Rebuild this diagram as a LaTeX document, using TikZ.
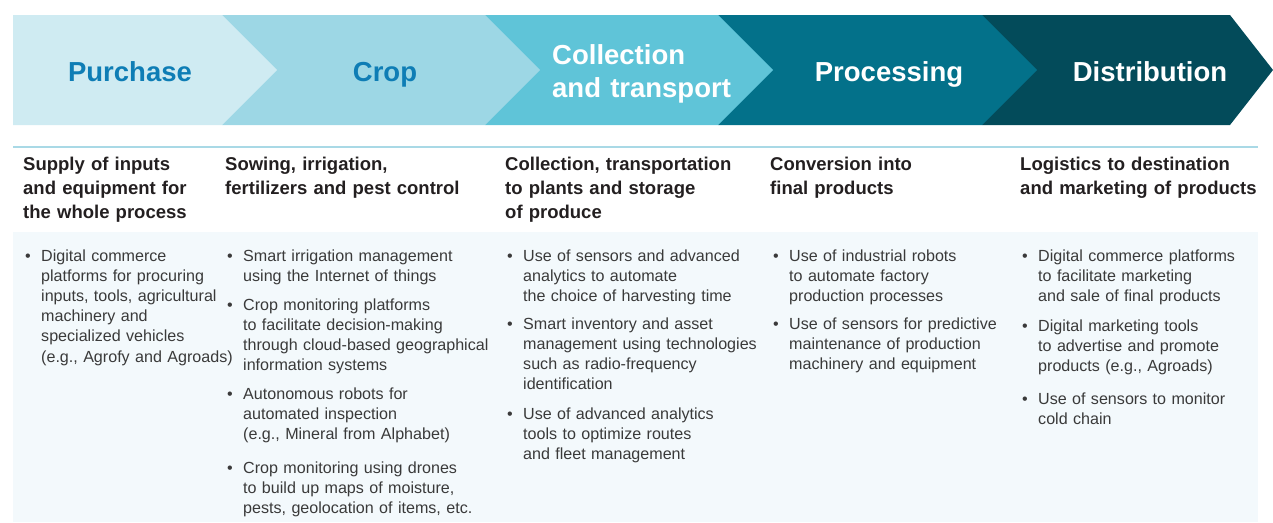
\documentclass[tikz,border=0pt]{standalone}
\usepackage{fontspec}
\setmainfont{Liberation Sans}
\usepackage{tikz}

\definecolor{stepA}{HTML}{CFEBF2}
\definecolor{stepB}{HTML}{9DD7E5}
\definecolor{stepC}{HTML}{5FC4D8}
\definecolor{stepD}{HTML}{03718A}
\definecolor{stepE}{HTML}{034B5A}
\definecolor{labblue}{HTML}{0E7DB5}
\definecolor{ruleblue}{HTML}{A9D9E6}
\definecolor{bodybg}{HTML}{F3F9FC}
\definecolor{headtxt}{HTML}{231F20}
\definecolor{bodytxt}{HTML}{3A3A3A}

\tikzset{
  stagelab/.style={font=\fontsize{27.5}{33}\selectfont\bfseries, inner sep=0, anchor=base},
  colhead/.style={font=\fontsize{18.5}{24}\selectfont\bfseries, text=headtxt,
    inner sep=0, anchor=base west, text width=260pt, align=left},
  bullitem/.style={font=\fontsize{16.1}{20.2}\selectfont, text=bodytxt,
    inner sep=0, anchor=base west, text width=260pt, align=left},
}
\newcommand{\bul}{\llap{\makebox[16pt][l]{\textbullet}}}

\begin{document}
\begin{tikzpicture}[x=1pt, y=-1pt]
  \useasboundingbox (0,0) rectangle (1273,522);

  % value chain arrows, last one first
  \foreach \xl/\xr/\tip/\col in {982/1230/1273/stepE, 718/982/1037/stepD,
      485/718/773/stepC, 222/485/540/stepB, 13/222/277/stepA}
    \fill[\col] (\xl,15) -- (\xr,15) -- (\tip,70) -- (\xr,125) -- (\xl,125) -- cycle;

  \node[stagelab, text=labblue] (purchase) at (130,81) {Purchase};
  \node[stagelab, text=labblue] (crop) at (385,81) {Crop};
  \node[stagelab, text=white, anchor=base west, text width=220pt, align=left]
    (collect) at (552,64) {Collection\\and transport};
  \node[stagelab, text=white] (processing) at (889,81) {Processing};
  \node[stagelab, text=white] (distribution) at (1150,81) {Distribution};

  \draw[ruleblue, line width=1.5pt] (13,147) -- (1258,147);
  \fill[bodybg] (13,232) rectangle (1258,522);

  % column heads
  \node[colhead] (headpurchase) at (23,170) {Supply of inputs\\and equipment for\\the whole process};
  \node[colhead] (headcrop) at (225,170) {Sowing, irrigation,\\fertilizers and pest control};
  \node[colhead] (headcollect) at (505,170) {Collection, transportation\\to plants and storage\\of produce};
  \node[colhead] (headprocess) at (770,170) {Conversion into\\final products};
  \node[colhead] (headdistrib) at (1020,170) {Logistics to destination\\and marketing of products};

  % purchase
  \node[bullitem] (purchaseA) at (41,261) {\bul Digital commerce\\platforms for procuring\\inputs, tools, agricultural\\machinery and\\specialized vehicles\\(e.g., Agrofy and Agroads)};

  % crop
  \node[bullitem] (cropA) at (243,261) {\bul Smart irrigation management\\using the Internet of things};
  \node[bullitem] (cropB) at (243,310) {\bul Crop monitoring platforms\\to facilitate decision-making\\through cloud-based geographical\\information systems};
  \node[bullitem] (cropC) at (243,399) {\bul Autonomous robots for\\automated inspection\\(e.g., Mineral from Alphabet)};
  \node[bullitem] (cropD) at (243,473) {\bul Crop monitoring using drones\\to build up maps of moisture,\\pests, geolocation of items, etc.};

  % collection and transport
  \node[bullitem] (collectA) at (523,261) {\bul Use of sensors and advanced\\analytics to automate\\the choice of harvesting time};
  \node[bullitem] (collectB) at (523,329) {\bul Smart inventory and asset\\management using technologies\\such as radio-frequency\\identification};
  \node[bullitem] (collectC) at (523,419) {\bul Use of advanced analytics\\tools to optimize routes\\and fleet management};

  % processing
  \node[bullitem] (processA) at (789,261) {\bul Use of industrial robots\\to automate factory\\production processes};
  \node[bullitem] (processB) at (789,329) {\bul Use of sensors for predictive\\maintenance of production\\machinery and equipment};

  % distribution
  \node[bullitem] (distribA) at (1038,261) {\bul Digital commerce platforms\\to facilitate marketing\\and sale of final products};
  \node[bullitem] (distribB) at (1038,331) {\bul Digital marketing tools\\to advertise and promote\\products (e.g., Agroads)};
  \node[bullitem] (distribC) at (1038,404) {\bul Use of sensors to monitor\\cold chain};
\end{tikzpicture}
\end{document}
